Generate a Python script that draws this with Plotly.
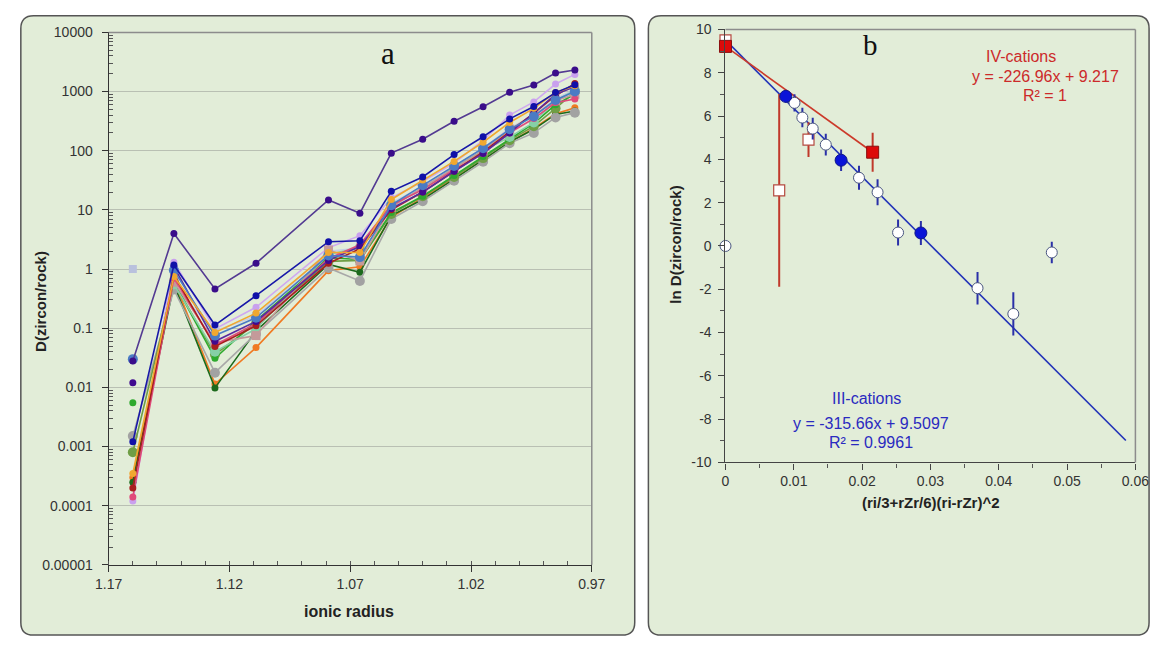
import plotly.graph_objects as go

# ---------------- panel a: zircon/rock partition coefficients vs ionic radius
ree_radius = [1.160, 1.143, 1.126, 1.109, 1.079, 1.066, 1.053,
              1.040, 1.027, 1.015, 1.004, 0.994, 0.985, 0.977]

# D(zircon/rock), La ... Lu (None = not determined)
d_s01 = [0.028, 4.0, 0.46, 1.25, 14.7, 8.8, 91, 156, 314, 553, 975, 1290, 2050, 2320]
d_s02 = [0.0012, 1.17, 0.113, 0.355, 2.9, 3.0, 20.6, 36, 86, 172, 345, 560, 960, 1300]
d_s03 = [0.00012, 1.3, 0.097, 0.226, 2.3, 3.66, 16, 30, 62, 150, 400, 667, 1340, 1950]
d_s04 = [0.00035, 0.75, 0.085, 0.18, 1.9, 1.9, 15, 32, 66, 139, 300, 520, 965, 1250]
d_s05 = [0.03, 0.95, 0.075, 0.15, 1.7, 1.59, 12, 26, 55, 110, 230, 380, 720, 1000]
d_s06 = [0.0002, 0.8, 0.049, 0.11, 1.25, 2.2, 10, 20, 45, 95, 210, 430, 850, 1370]
d_s07 = [0.00014, 0.7, 0.052, 0.12, 1.5, 2.57, 12, 22, 48, 90, 200, 350, 650, 750]
d_s08 = [None, 0.6, 0.057, 0.075, 2.1, 1.37, 11, 24, 50, 100, 230, 400, 700, 900]
d_s09 = [None, 0.55, 0.04, 0.098, 1.76, 2.3, 12.5, 22, 52, 100, 170, 300, 700, 1050]
d_s10 = [0.0055, 0.6, 0.031, 0.133, 1.55, 1.45, 9, 17, 38, 80, 160, 290, 600, 900]
d_s11 = [0.00025, 0.55, 0.0098, 0.09, 1.2, 0.88, 8, 15, 33, 70, 140, 230, 410, 470]
d_s12 = [0.0003, 0.65, 0.0114, 0.047, 0.94, 1.09, 7.5, 16, 34, 70, 140, 240, 420, 530]
d_s13 = [0.0015, 0.45, 0.0177, 0.08, 1.04, 0.63, 7, 14, 31, 65, 134, 200, 365, 440]
d_s14 = [0.0008, 0.6, 0.036, 0.12, 1.35, 1.4, 8.5, 17, 36, 75, 150, 260, 520, 1000]
d_s15 = [1.0, 0.5, 0.09, 0.16, 2.0, 2.26, 13, 25, 55, 110, 240, 400, 750, 1100]
d_s16 = [0.012, 1.1, 0.06, 0.13, 1.4, 2.4, 10.5, 20, 45, 90, 200, 430, 900, 1200]

samples = [
    # (values, line colour, marker colour, marker symbol, marker size, La joined to Ce)
    (d_s03, "#cfa9f0", "#c9a0ee", "circle", 7, True),
    (d_s15, "#c6cfe6", "#b9c1dd", "square", 8, False),
    (d_s12, "#f07a22", "#f07a22", "circle", 7, True),
    (d_s11, "#1c6a1c", "#1c6a1c", "circle", 7, True),
    (d_s13, "#a8a8a8", "#a2a2a2", "circle", 10, True),
    (d_s14, "#6f9e45", "#6f9e45", "circle", 10, True),
    (d_s10, "#2eaa2e", "#2eaa2e", "circle", 7, False),
    (d_s09, "#86d0a6", "#86d0a6", "circle", 10, True),
    (d_s08, "#c49a9a", "#c49a9a", "square", 9, True),
    (d_s07, "#e04a7a", "#e04a7a", "circle", 7, True),
    (d_s06, "#a81e1e", "#a81e1e", "circle", 7, True),
    (d_s16, "#5a2aa0", "#400a90", "circle", 7, False),
    (d_s05, "#4a7bc4", "#4a7bc4", "circle", 10, False),
    (d_s04, "#f0a830", "#f0a830", "circle", 7, True),
    (d_s02, "#1818a8", "#1010a8", "circle", 7, True),
    (d_s01, "#533a92", "#3a0d8a", "circle", 7, True),
]

# ---------------- panel b: lattice-strain plot
# III-cations, open symbols
iii_open_x = [0.0, 0.0101, 0.01125, 0.01277, 0.01468, 0.01954, 0.02226, 0.02526, 0.03689, 0.04213, 0.04776]
iii_open_y = [0.0, 6.61, 5.93, 5.42, 4.68, 3.15, 2.48, 0.62, -1.95, -3.14, -0.30]
iii_open_err = [0.0, 0.4, 0.45, 0.5, 0.5, 0.55, 0.6, 0.6, 0.75, 1.0, 0.5]
# III-cations, filled symbols
iii_fill_x = [0.00882, 0.01692, 0.0286]
iii_fill_y = [6.91, 3.96, 0.60]
iii_fill_err = [0.3, 0.5, 0.55]
# IV-cations, filled symbols
iv_fill_x = [0.0, 0.02154]
iv_fill_y = [9.217, 4.33]
iv_fill_err = [0.0, 0.9]
# IV-cations, open symbols
iv_open_x = [0.0, 0.00786, 0.01215]
iv_open_y = [9.5, 2.57, 4.91]
iv_open_err = [0.0, 4.45, 0.8]

fit_iii = (-315.66, 9.5097)   # slope, intercept
fit_iii_x = [0.0, 0.0586]
fit_iv = (-226.96, 9.217)
fit_iv_x = [0.0, 0.02154]

lnd_ticks = [-10, -8, -6, -4, -2, 0, 2, 4, 6, 8, 10]
lnd_ticktext = ["-10", "-8", "-6", "-4", "-2", "0", "2", "4", "6", "8", "10"]

W, H = 1166, 646


def px(x):
    return x / W


def py(y):
    return 1 - y / H


def rounded_box(x0, y0, x1, y1, r):
    a, b, c, d = px(x0), py(y0), px(x1), py(y1)
    rx, ry = r / W, r / H
    return (f"M {a+rx},{b} L {c-rx},{b} Q {c},{b} {c},{b-ry} "
            f"L {c},{d+ry} Q {c},{d} {c-rx},{d} L {a+rx},{d} "
            f"Q {a},{d} {a},{d+ry} L {a},{b-ry} Q {a},{b} {a+rx},{b} Z")


fig = go.Figure()

# panel a traces
for vals, lc, mc, sym, ms, joined in samples:
    xs, ys = list(ree_radius), list(vals)
    if not joined and ys[0] is not None:
        xs = [xs[0], None] + xs[1:]
        ys = [ys[0], None] + ys[1:]
    fig.add_trace(go.Scatter(
        x=xs, y=ys, mode="lines+markers", connectgaps=False,
        line=dict(color=lc, width=1.6),
        marker=dict(color=mc, size=ms, symbol=sym, line=dict(width=0)),
        xaxis="x", yaxis="y", showlegend=False, hoverinfo="skip"))

# panel b traces
fig.add_trace(go.Scatter(
    x=fit_iii_x, y=[fit_iii[0] * v + fit_iii[1] for v in fit_iii_x],
    mode="lines", line=dict(color="#2233b8", width=1.6),
    xaxis="x2", yaxis="y2", showlegend=False))
fig.add_trace(go.Scatter(
    x=fit_iv_x, y=[fit_iv[0] * v + fit_iv[1] for v in fit_iv_x],
    mode="lines", line=dict(color="#cc3a2a", width=1.6),
    xaxis="x2", yaxis="y2", showlegend=False))

fig.add_trace(go.Scatter(
    x=iv_open_x, y=iv_open_y, mode="markers", cliponaxis=False,
    marker=dict(symbol="square", size=11, color="white", line=dict(color="#b54a40", width=1.2)),
    error_y=dict(type="data", array=iv_open_err, color="#c0392b", thickness=2, width=0),
    xaxis="x2", yaxis="y2", showlegend=False))
fig.add_trace(go.Scatter(
    x=iii_open_x, y=iii_open_y, mode="markers", cliponaxis=False,
    marker=dict(symbol="circle", size=11, color="white", line=dict(color="#4a5680", width=1)),
    error_y=dict(type="data", array=iii_open_err, color="#2a30a8", thickness=2, width=0),
    xaxis="x2", yaxis="y2", showlegend=False))
fig.add_trace(go.Scatter(
    x=iii_fill_x, y=iii_fill_y, mode="markers", cliponaxis=False,
    marker=dict(symbol="circle", size=12, color="#0a14d8", line=dict(color="#10188a", width=1)),
    error_y=dict(type="data", array=iii_fill_err, color="#2a30a8", thickness=2, width=0),
    xaxis="x2", yaxis="y2", showlegend=False))
fig.add_trace(go.Scatter(
    x=iv_fill_x, y=iv_fill_y, mode="markers", cliponaxis=False,
    marker=dict(symbol="square", size=12, color="#dd0a0a", line=dict(color="#8a1010", width=1)),
    error_y=dict(type="data", array=iv_fill_err, color="#c0392b", thickness=2, width=0),
    xaxis="x2", yaxis="y2", showlegend=False))

tick_font = dict(family="Liberation Sans, Arial", size=14, color="#333333")
decades = [10.0 ** k for k in range(-5, 5)]
decade_text = ["0.00001", "0.0001", "0.001", "0.01", "0.1", "1", "10", "100", "1000", "10000"]
minor_log = [m * d for d in decades[:-1] for m in range(2, 10)]

fig.update_layout(
    width=W, height=H,
    margin=dict(l=0, r=0, t=0, b=0),
    paper_bgcolor="white",
    plot_bgcolor="rgba(0,0,0,0)",
    xaxis=dict(
        domain=[px(97), px(592)], anchor="y",
        range=[1.17, 0.97], tickmode="linear", tick0=0.97, dtick=0.05, tickformat=".2f",
        showgrid=False, zeroline=False, showline=True, linecolor="#333333", linewidth=1.2,
        ticks="outside", ticklen=6, tickcolor="#333333", tickfont=tick_font,
        minor=dict(dtick=0.01, ticks="inside", ticklen=4, tickcolor="#555555"),
    ),
    yaxis=dict(
        domain=[py(571), py(25)], anchor="x",
        type="log", range=[-5, 4], tickmode="array", tickvals=decades, ticktext=decade_text,
        showgrid=True, gridcolor="#b9c0b3", gridwidth=1, zeroline=False,
        showline=True, linecolor="#333333", linewidth=1.2,
        ticks="outside", ticklen=6, tickcolor="#333333", tickfont=tick_font,
        ticklabelstandoff=6,
        minor=dict(tickvals=minor_log, ticks="inside", ticklen=4, tickcolor="#555555", showgrid=False),
    ),
    xaxis2=dict(
        domain=[px(729), px(1149)], anchor="y2",
        range=[0, 0.06], tickmode="linear", tick0=0, dtick=0.01,
        showgrid=False, zeroline=False, showline=True, linecolor="#444444", linewidth=1.2,
        ticks="outside", ticklen=6, tickcolor="#444444", tickfont=tick_font,
        minor=dict(dtick=0.005, ticks="outside", ticklen=4, tickcolor="#555555"),
    ),
    yaxis2=dict(
        domain=[py(466), py(22)], anchor="x2",
        range=[-10, 10], tickmode="array", tickvals=lnd_ticks, ticktext=lnd_ticktext,
        showgrid=False, zeroline=False, showline=True, linecolor="#444444", linewidth=1.2,
        ticks="outside", ticklen=6, tickcolor="#444444", tickfont=tick_font,
        ticklabelstandoff=4,
        minor=dict(dtick=1, ticks="outside", ticklen=4, tickcolor="#555555"),
    ),
)

shapes = [
    dict(type="path", xref="paper", yref="paper", layer="below",
         path=rounded_box(7, 8, 636, 643, 13),
         fillcolor="#e2edd8", line=dict(color="#555555", width=1.5)),
    dict(type="path", xref="paper", yref="paper", layer="below",
         path=rounded_box(650, 8, 1163, 643, 13),
         fillcolor="#e2edd8", line=dict(color="#555555", width=1.5)),
]
# plot-area frame (top and right edges)
for xa, ya in (("x", "y"), ("x2", "y2")):
    shapes.append(dict(type="line", xref=f"{xa} domain", yref=f"{ya} domain",
                       x0=0, x1=1, y0=1, y1=1, line=dict(color="#8c8c8c", width=1.5)))
    shapes.append(dict(type="line", xref=f"{xa} domain", yref=f"{ya} domain",
                       x0=1, x1=1, y0=0, y1=1, line=dict(color="#8c8c8c", width=1.5)))
fig.update_layout(shapes=shapes)

title_font = dict(family="Liberation Sans, Arial", size=15, color="#222222")
label_font = dict(family="Liberation Sans, Arial", size=16)
red = "#cc2a2a"
blue = "#2a2ac0"
annotations = [
    dict(text="<b>D(zircon/rock)</b>", x=px(27), y=py(301), textangle=-90, font=title_font),
    dict(text="<b>ionic radius</b>", x=px(343), y=py(619), font=dict(title_font, size=16)),
    dict(text="<b>ln D(zircon/rock)</b>", x=px(678), y=py(243), textangle=-90, font=dict(title_font, size=15)),
    dict(text="<b>(ri/3+rZr/6)(ri-rZr)^2</b>", x=px(940), y=py(507), font=dict(title_font, size=15)),
    dict(text="a", x=px(383), y=py(47), font=dict(family="Liberation Serif, Times New Roman", size=31, color="#111111")),
    dict(text="b", x=px(878), y=py(38), font=dict(family="Liberation Serif, Times New Roman", size=29, color="#111111")),
    dict(text="IV-cations", x=px(1032), y=py(50), font=dict(label_font, color=red)),
    dict(text="y = -226.96x + 9.217", x=px(1057), y=py(70), font=dict(label_font, color=red)),
    dict(text="R² = 1", x=px(1056), y=py(90), font=dict(label_font, color=red)),
    dict(text="III-cations", x=px(873), y=py(400), font=dict(label_font, color=blue)),
    dict(text="y = -315.66x + 9.5097", x=px(878), y=py(426), font=dict(label_font, color=blue)),
    dict(text="R² = 0.9961", x=px(878), y=py(446), font=dict(label_font, color=blue)),
]
for a in annotations:
    a.update(xref="paper", yref="paper", showarrow=False, xanchor="center", yanchor="middle")
fig.update_layout(annotations=annotations)

fig.write_html("out.html")
